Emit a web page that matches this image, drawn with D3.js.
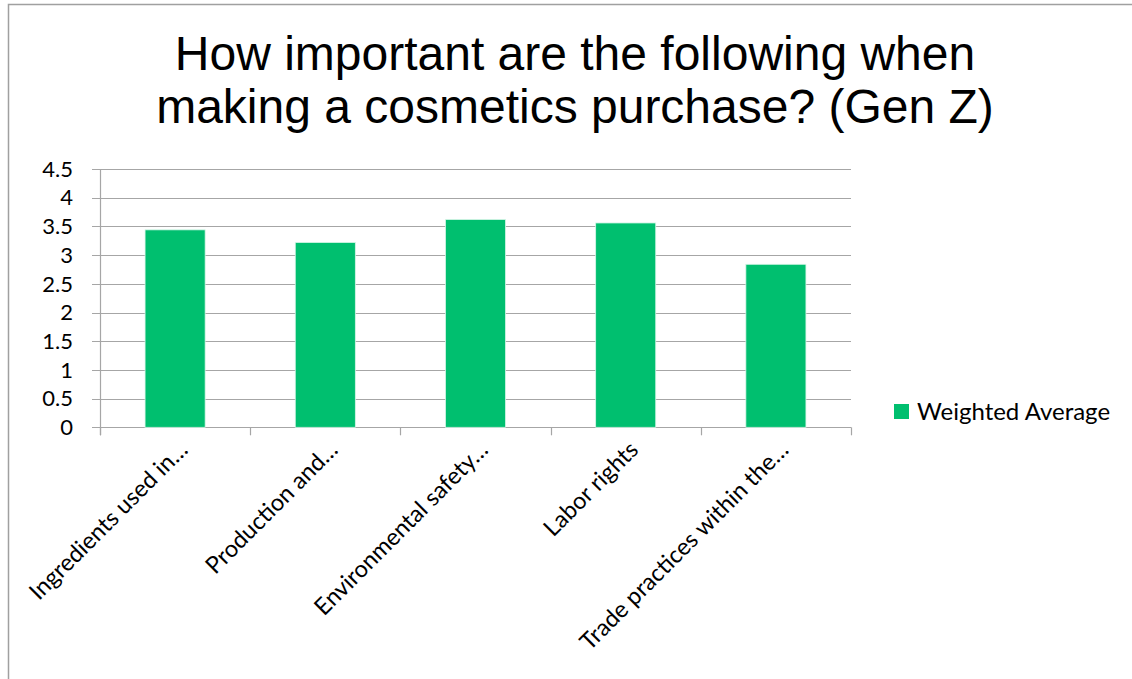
<!DOCTYPE html>
<html>
<head>
<meta charset="utf-8">
<script src="https://cdn.jsdelivr.net/npm/d3@7"></script>
<style>
  html, body { margin: 0; padding: 0; background: #fff; }
  svg { display: block; }
</style>
</head>
<body>
<svg id="chart" width="1132" height="679"></svg>
<script>
// Survey results: weighted average importance ratings
const categories = [
  "Ingredients used in…",
  "Production and…",
  "Environmental safety…",
  "Labor rights",
  "Trade practices within the…"
];
const weightedAverage = [3.44, 3.22, 3.62, 3.56, 2.84];
const yTicks = [0, 0.5, 1, 1.5, 2, 2.5, 3, 3.5, 4, 4.5];
const titleLines = [
  "How important are the following when",
  "making a cosmetics purchase? (Gen Z)"
];
const seriesName = "Weighted Average";

const W = 1132, H = 679;
const svg = d3.select("#chart");
const barColor = "#00bf6f";
const gridColor = "#a6a6a6";
const labelFont = "Lato, 'Open Sans', sans-serif";

// Outer chart frame
svg.append("rect")
  .attr("x", 8.5).attr("y", 4.5)
  .attr("width", W + 20).attr("height", H + 20)
  .attr("fill", "#fff")
  .attr("stroke", "#a0a0a0").attr("stroke-width", 1.5);

// Title
svg.append("g").selectAll("text")
  .data(titleLines)
  .join("text")
  .attr("x", 575)
  .attr("y", (d, i) => 70 + i * 53)
  .attr("text-anchor", "middle")
  .attr("font-family", "'Liberation Sans', Arial, sans-serif")
  .attr("font-size", 48)
  .attr("fill", "#000")
  .text(d => d);

// Plot area
const plot = { left: 100, right: 851, top: 169, bottom: 427.3 };

const x = d3.scaleBand()
  .domain(categories)
  .range([plot.left, plot.right])
  .paddingInner(0.6)
  .paddingOuter(0.3);

const y = d3.scaleLinear()
  .domain([0, 4.5])
  .range([plot.bottom, plot.top]);

// Horizontal gridlines
svg.append("g")
  .selectAll("line")
  .data(yTicks)
  .join("line")
  .attr("x1", plot.left - 8)
  .attr("x2", plot.right)
  .attr("y1", d => Math.round(y(d)) + 0.5)
  .attr("y2", d => Math.round(y(d)) + 0.5)
  .attr("stroke", gridColor)
  .attr("stroke-width", 1.2);

// Y axis line
svg.append("line")
  .attr("x1", plot.left + 0.5).attr("x2", plot.left + 0.5)
  .attr("y1", plot.top).attr("y2", plot.bottom + 8)
  .attr("stroke", gridColor).attr("stroke-width", 1.2);

// Y tick labels
svg.append("g")
  .selectAll("text")
  .data(yTicks)
  .join("text")
  .attr("x", 73)
  .attr("y", d => y(d))
  .attr("dy", "0.35em")
  .attr("text-anchor", "end")
  .attr("font-family", labelFont)
  .attr("font-size", 22)
  .attr("fill", "#000")
  .text(d => d);

// Category boundary ticks on the x axis
const step = (plot.right - plot.left) / categories.length;
const boundaries = d3.range(categories.length + 1).map(i => plot.left + i * step);
svg.append("g")
  .selectAll("line")
  .data(boundaries)
  .join("line")
  .attr("x1", d => Math.round(d) + 0.5)
  .attr("x2", d => Math.round(d) + 0.5)
  .attr("y1", plot.bottom)
  .attr("y2", plot.bottom + 8)
  .attr("stroke", gridColor).attr("stroke-width", 1.2);

// Bars
svg.append("g")
  .selectAll("rect")
  .data(categories.map((c, i) => ({ c, v: weightedAverage[i] })))
  .join("rect")
  .attr("x", d => x(d.c))
  .attr("width", x.bandwidth())
  .attr("y", d => y(d.v))
  .attr("height", d => y(0) - y(d.v))
  .attr("fill", barColor)
  .attr("stroke", "#d8f5e8")
  .attr("stroke-width", 0.8);

// Rotated category labels
svg.append("g")
  .selectAll("text")
  .data(categories)
  .join("text")
  .attr("transform", d => {
    const cx = x(d) + x.bandwidth() / 2 + 14;
    return `translate(${cx},${plot.bottom + 24}) rotate(-45)`;
  })
  .attr("text-anchor", "end")
  .attr("font-family", labelFont)
  .attr("font-size", 23.5)
  .attr("fill", "#000")
  .text(d => d);

// Legend
const legend = svg.append("g").attr("transform", "translate(894,404)");
legend.append("rect")
  .attr("width", 15).attr("height", 15)
  .attr("fill", barColor);
legend.append("text")
  .attr("x", 23).attr("y", 7.5)
  .attr("dy", "0.35em")
  .attr("font-family", labelFont)
  .attr("font-size", 24)
  .attr("fill", "#000")
  .text(seriesName);
</script>
</body>
</html>
